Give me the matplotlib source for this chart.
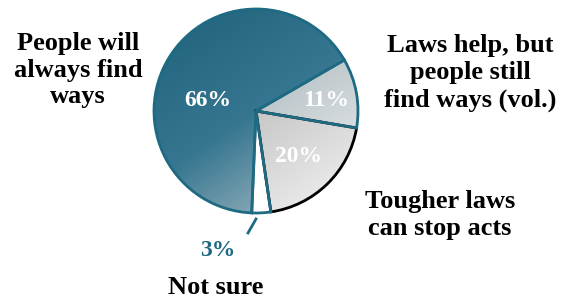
import numpy as np
import matplotlib
matplotlib.use("Agg")
import matplotlib.pyplot as plt
from matplotlib.colors import LinearSegmentedColormap

# data
labels = ["People will\nalways find\nways", "Not sure",
          "Tougher laws\ncan stop acts", "Laws help, but\npeople still\nfind ways (vol.)"]
values = [66, 3, 20, 11]
pct_text = ["66%", "3%", "20%", "11%"]

# gradient colours per slice (dark end -> light end)
grads = [["#1f617c", "#367690", "#b8c6cc"], ["#ffffff", "#ffffff"],
         ["#999999", "#f4f4f4"], ["#8a9ea6", "#f2f2f2"]]
teal = "#1e6a82"

plt.rcParams["font.family"] = ["Liberation Serif", "DejaVu Serif"]

fig = plt.figure(figsize=(5.69, 3.0), dpi=100)
ax = fig.add_axes([0, 0, 1, 1])

cx, cy, r = 256, 189, 102
wedges, _ = ax.pie(values, startangle=30, counterclock=True,
                   center=(cx, cy), radius=r, frame=True,
                   wedgeprops=dict(linewidth=2, edgecolor=teal, facecolor="none"))
ax.set_xlim(0, 569)
ax.set_ylim(0, 300)
ax.set_aspect("equal")
ax.axis("off")

# diagonal gradient fill clipped to each wedge
n = 200
xx, yy = np.meshgrid(np.linspace(0, 1, n), np.linspace(0, 1, n))
t = (0.8 * xx + 1.2 * yy) / 2  # 0 at upper-left, 1 at lower-right
for w, cols in zip(wedges, grads):
    cmap = LinearSegmentedColormap.from_list("g", cols)
    im = ax.imshow(t, cmap=cmap, extent=(cx - r, cx + r, cy - r, cy + r),
                   origin="upper", zorder=0, interpolation="bilinear")
    im.set_clip_path(w)

wedges[2].set_edgecolor("black")
wedges[2].set_zorder(2)
wedges[3].set_zorder(2)
wedges[1].set_zorder(3)
wedges[0].set_zorder(3)

bold = dict(fontweight="bold", ha="center", va="center")
ax.text(208, 300 - 101, pct_text[0], color="white", fontsize=17, zorder=5, **bold)
ax.text(326, 300 - 101, pct_text[3], color="white", fontsize=17, zorder=5, **bold)
ax.text(299, 300 - 156, pct_text[2], color="white", fontsize=17, zorder=5, **bold)
ax.text(218, 300 - 250, pct_text[1], color=teal, fontsize=17, zorder=5, **bold)
ax.plot([256, 248], [300 - 219, 300 - 233], color=teal, lw=2)

ax.text(78, 300 - 70, labels[0], fontsize=19, linespacing=1.22, **bold)
ax.text(470, 300 - 73, labels[3], fontsize=19, linespacing=1.22, **bold)
ax.text(440, 300 - 215, labels[2], fontsize=19, linespacing=1.22, **bold)
ax.text(216, 300 - 288, labels[1], fontsize=19, **bold)

fig.savefig("out.png", dpi=100)
